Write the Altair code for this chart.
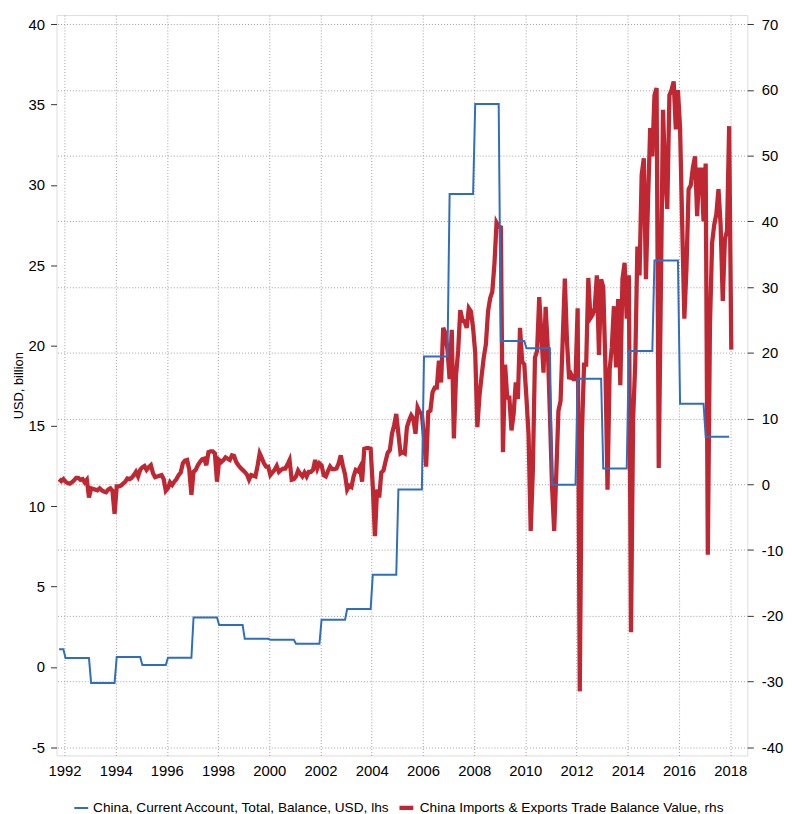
import altair as alt
import pandas as pd

BLUE = "China, Current Account, Total, Balance, USD, lhs"
RED = "China Imports & Exports Trade Balance Value, rhs"

# Current account (lhs), one value per calendar year (monthly steps)
blue_years = list(range(1991, 2018))
blue_values = [1.1, 0.55, -1.0, 0.62, 0.12, 0.57, 3.08, 2.61, 1.75, 1.69, 1.44, 2.94, 3.6,
               5.73, 11.04, 19.32, 29.43, 35.04, 20.28, 19.83, 11.34, 17.94, 12.35, 19.67,
               25.3, 16.38, 14.32]

# Trade balance (rhs), monthly values, Jan..Dec (1991 starts in October)
red_1991 = [0.8, 0.5, 0.8]
red_1992 = [0.4, 0.2, 0.1, 0.3, 0.6, 1.0, 1.0, 0.7, 0.8, 0.3, 0.7, -2.0]
red_1993 = [-0.6, -0.7, -0.8, -0.9, -0.6, -0.9, -1.1, -1.2, -0.8, -0.6, -1.0, -4.5]
red_1994 = [-0.3, -0.3, -0.2, 0.1, 0.4, 0.9, 0.8, 1.0, 1.4, 1.9, 1.2, 2.2]
red_1995 = [2.6, 2.8, 2.2, 2.6, 2.9, 1.7, 1.1, 1.2, 1.3, 1.4, 0.8, -1.0]
red_1996 = [-0.6, 0.3, -0.1, 0.4, 0.8, 1.4, 1.8, 3.2, 3.6, 3.7, 2.2, -1.6]
red_1997 = [1.9, 2.2, 2.9, 3.4, 3.8, 3.9, 2.9, 4.9, 5.0, 5.0, 4.7, 0.4]
red_1998 = [3.7, 3.4, 3.7, 4.1, 3.9, 3.7, 4.4, 4.3, 3.4, 2.9, 2.5, 2.2]
red_1999 = [1.9, 1.5, 0.7, 1.4, 1.3, 1.2, 2.8, 4.7, 4.0, 3.2, 2.7, 2.7]
red_2000 = [1.4, 1.8, 2.2, 2.8, 1.9, 2.2, 2.4, 2.4, 3.0, 3.7, 0.7, 0.8]
red_2001 = [1.2, 2.1, 1.6, 1.2, 1.8, 1.2, 1.9, 1.9, 2.2, 3.7, 2.4, 3.2]
red_2002 = [2.9, 1.4, 1.2, 2.0, 2.7, 2.3, 2.3, 2.4, 3.2, 4.4, 2.8, 1.5]
red_2003 = [-0.8, -0.2, -0.4, 1.2, 2.2, 2.0, 2.6, 0.4, 5.4, 5.5, 5.5, 5.4]
red_2004 = [-0.3, -7.9, -0.8, -2.0, 1.8, 2.1, 3.5, 4.8, 5.2, 7.7, 9.0, 10.7]
red_2005 = [7.7, 4.7, 4.9, 4.7, 8.7, 9.7, 10.5, 10.0, 7.7, 11.7, 11.0, 10.7]
red_2006 = [7.2, 2.7, 11.0, 11.2, 14.0, 14.7, 14.7, 18.8, 15.5, 23.8, 23.0, 20.5]
red_2007 = [16.0, 23.5, 7.0, 16.5, 20.3, 26.5, 25.0, 24.8, 23.8, 26.8, 26.3, 23.8]
red_2008 = [20.0, 8.7, 13.5, 16.5, 19.3, 21.3, 26.3, 28.3, 29.3, 33.5, 39.8, 39.2]
red_2009 = [39.1, 4.9, 18.2, 13.2, 13.2, 8.2, 10.7, 15.5, 13.0, 23.8, 18.7, 18.2]
red_2010 = [13.2, 7.6, -7.1, 2.0, 19.3, 20.3, 28.5, 22.8, 17.0, 27.0, 20.8, 10.7]
red_2011 = [-0.3, -7.1, 1.7, 11.2, 12.7, 22.0, 31.3, 21.8, 16.0, 16.7, 16.0, 16.0]
red_2012 = [26.8, -31.5, 7.7, 18.2, 18.2, 31.4, 25.3, 25.8, 26.8, 31.8, 19.7, 31.2]
red_2013 = [30.0, 18.1, -0.8, 17.5, 20.8, 27.1, 17.8, 28.2, 15.1, 31.2, 33.7, 25.2]
red_2014 = [31.8, -22.5, 9.9, 18.5, 36.2, 31.8, 47.1, 49.6, 31.2, 43.3, 54.2, 49.9]
red_2015 = [59.2, 60.3, 2.5, 29.6, 57.0, 47.1, 41.9, 59.2, 60.0, 61.3, 54.0, 60.0]
red_2016 = [54.2, 39.5, 25.2, 32.9, 44.9, 45.5, 48.2, 49.9, 40.8, 47.9, 47.9, 40.0]
red_2017 = [48.8, -10.7, 24.1, 36.7, 39.5, 41.1, 44.9, 39.5, 27.9, 37.3, 38.6, 54.5]
red_2018 = [20.5]

red_years = {
    1991: red_1991, 1992: red_1992, 1993: red_1993, 1994: red_1994, 1995: red_1995,
    1996: red_1996, 1997: red_1997, 1998: red_1998, 1999: red_1999, 2000: red_2000,
    2001: red_2001, 2002: red_2002, 2003: red_2003, 2004: red_2004, 2005: red_2005,
    2006: red_2006, 2007: red_2007, 2008: red_2008, 2009: red_2009, 2010: red_2010,
    2011: red_2011, 2012: red_2012, 2013: red_2013, 2014: red_2014, 2015: red_2015,
    2016: red_2016, 2017: red_2017, 2018: red_2018,
}

blue_rows = []
for yr, v in zip(blue_years, blue_values):
    first = 10 if yr == 1991 else 1
    for m in range(first, 13):
        blue_rows.append({"t": yr + (m - 0.5) / 12, "value": v, "series": BLUE})

red_rows = []
for yr, vals in red_years.items():
    first = 10 if yr == 1991 else 1
    for i, v in enumerate(vals):
        m = first + i
        red_rows.append({"t": yr + (m - 0.5) / 12, "value": v, "series": RED})

blue_df = pd.DataFrame(blue_rows)
red_df = pd.DataFrame(red_rows)

FONT = "Liberation Sans"
GRID = "#a0a0a0"
HYPHEN_LABEL = "datum.value < 0 ? '-' + abs(datum.value) : '' + datum.value"

x_enc = alt.X(
    "t:Q",
    scale=alt.Scale(domain=[1991.69, 2018.67], nice=False, zero=False),
    axis=alt.Axis(values=list(range(1992, 2019, 2)), format="d", title=None,
                  grid=True, gridDash=[1, 2], gridColor=GRID, gridWidth=1,
                  ticks=False, domain=False, labelFontSize=15, labelPadding=8,
                  labelColor="#000", labelFont=FONT),
)

legend_common = dict(
    orient="none", legendX=17, legendY=791, direction="horizontal", title=None,
    symbolType="stroke", symbolSize=196, labelFontSize=13.8, labelFont=FONT,
    labelColor="#000", labelLimit=500, columnPadding=0, labelOffset=4,
)

color_enc = alt.Color(
    "series:N",
    scale=alt.Scale(domain=[BLUE, RED], range=["#2F6EBF", "#BF2832"]),
    legend=alt.Legend(**legend_common),
)
width_enc = alt.StrokeWidth(
    "series:N",
    scale=alt.Scale(domain=[BLUE, RED], range=[2, 4.3]),
    legend=alt.Legend(**legend_common),
)

red_line = alt.Chart(red_df).mark_line(strokeJoin="miter").encode(
    x=x_enc,
    y=alt.Y("value:Q",
            scale=alt.Scale(domain=[-41.25, 71.40], nice=False, zero=False),
            axis=alt.Axis(orient="right", values=list(range(-40, 71, 10)), title=None,
                          grid=True, gridDash=[1, 2], gridColor=GRID, gridWidth=1,
                          tickSize=6, tickColor="#333", domain=False,
                          labelFontSize=15, labelPadding=8, labelColor="#000",
                          labelFont=FONT, labelExpr=HYPHEN_LABEL)),
    color=color_enc,
    strokeWidth=width_enc,
    order="t:Q",
)

blue_line = alt.Chart(blue_df).mark_line().encode(
    x=x_enc,
    y=alt.Y("value:Q",
            scale=alt.Scale(domain=[-5.512, 40.573], nice=False, zero=False),
            axis=alt.Axis(orient="left", values=list(range(-5, 41, 5)),
                          title="USD, billion", grid=False, tickSize=6, tickColor="#333",
                          domain=False, labelFontSize=15, labelPadding=6,
                          labelColor="#000", labelFont=FONT, labelExpr=HYPHEN_LABEL,
                          titleFont=FONT, titleFontSize=13, titleFontWeight="normal",
                          titleColor="#000", titlePadding=3)),
    color=color_enc,
    strokeWidth=width_enc,
    order="t:Q",
)

chart = alt.layer(red_line, blue_line).resolve_scale(
    y="independent"
).properties(
    width=698,
    height=748,
    autosize=alt.AutoSizeParams(type="none"),
    padding={"left": 49, "top": 3, "right": 37, "bottom": 55},
).configure_view(
    stroke="#9a9a9a", strokeWidth=1
).configure(
    background="white"
)

chart.save("out.html", embed_options={"renderer": "svg", "actions": False})
